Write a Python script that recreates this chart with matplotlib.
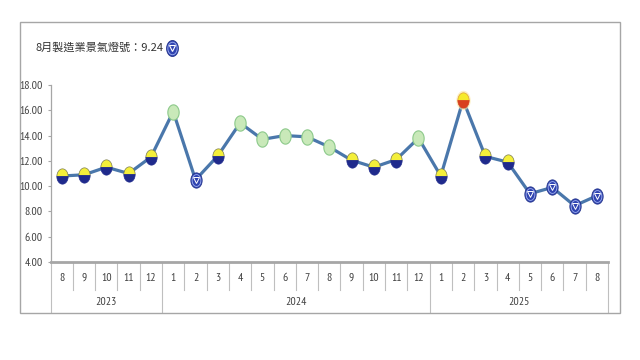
import numpy as np
import matplotlib
matplotlib.use("Agg")
import matplotlib.pyplot as plt
from matplotlib.path import Path
from matplotlib.patches import Rectangle
import matplotlib.transforms as mtransforms

# ---- data ----
months = [8, 9, 10, 11, 12,
          1, 2, 3, 4, 5, 6, 7, 8, 9, 10, 11, 12,
          1, 2, 3, 4, 5, 6, 7, 8]
years = ["2023", "2024", "2025"]
year_counts = [5, 12, 8]
scores = [10.8, 10.9, 11.5, 11.0, 12.3,
          15.9, 10.5, 12.4, 15.0, 13.7, 14.0, 13.9, 13.1, 12.05, 11.5, 12.1, 13.8,
          10.8, 16.8, 12.35, 11.9, 9.4, 9.9, 8.45, 9.24]
signals = ["yb", "yb", "yb", "yb", "yb",
           "g", "b", "yb", "g", "g", "g", "g", "g", "yb", "yb", "yb", "g",
           "yb", "yr", "yb", "yb", "b", "b", "b", "b"]
yticks = [4, 6, 8, 10, 12, 14, 16, 18]
title = "8月製造業景氣燈號：9.24"

plt.rcParams["font.family"] = ["PT Sans Narrow", "Roboto Condensed", "DejaVu Sans"]

# ---- marker paths (ellipses) ----
a, b = 0.74, 1.0
t_up = np.linspace(0, np.pi, 40)
t_dn = np.linspace(np.pi, 2 * np.pi, 40)
t_full = np.linspace(0, 2 * np.pi, 80)

def closed(xs, ys):
    v = np.column_stack([xs, ys])
    v = np.vstack([v, v[:1]])
    codes = [Path.MOVETO] + [Path.LINETO] * (len(v) - 2) + [Path.CLOSEPOLY]
    return Path(v, codes)

up_path = closed(a * np.cos(t_up), b * np.sin(t_up))
dn_path = closed(a * np.cos(t_dn), b * np.sin(t_dn))
full_path = closed(a * np.cos(t_full), b * np.sin(t_full))

fig = plt.figure(figsize=(6.4, 3.6), dpi=100)
fig.patch.set_facecolor("white")

# outer frame
fig.patches.append(Rectangle((20 / 640, 1 - 313 / 360), 600 / 640, 291 / 360,
                             transform=fig.transFigure, fill=False,
                             edgecolor="#a6a6a6", lw=1.0))

ax = fig.add_axes([50.6 / 640, 1 - 262 / 360, (608 - 50.6) / 640, (262 - 85) / 360])
x = np.arange(len(scores))
ax.set_xlim(-0.5, len(scores) - 0.5)
ax.set_ylim(4, 18)

for s in ["top", "right"]:
    ax.spines[s].set_visible(False)
ax.spines["left"].set_color("#a6a6a6")
ax.spines["left"].set_linewidth(0.9)
ax.spines["bottom"].set_color("#a6a6a6")
ax.spines["bottom"].set_linewidth(2.0)
ax.set_xticks([])
ax.set_yticks(yticks)
ax.set_yticklabels([f"{v:.2f}" for v in yticks])
ax.tick_params(axis="y", length=2.5, width=0.8, color="#a6a6a6", pad=3,
               labelsize=8.5, labelcolor="#404040")

# line
ax.plot(x, scores, color="#4a77ab", lw=2.3, zorder=2, solid_capstyle="round")

ms = 11
sc = np.array(scores)
sig = np.array(signals)

def sel(k):
    m = sig == k
    return x[m], sc[m]

# green
gx, gy = sel("g")
ax.plot(gx, gy, ls="none", marker=full_path, ms=ms, mfc="#c9e9b9", mec="#8cc98a",
        mew=0.8, zorder=3)
# yellow-blue
yx, yy = sel("yb")
ax.plot(yx, yy, ls="none", marker=up_path, ms=ms, mfc="#f4ef3a", mec="#7a7a50",
        mew=0.5, zorder=3)
ax.plot(yx, yy, ls="none", marker=dn_path, ms=ms, mfc="#1f2a8c", mec="#1f2a8c",
        mew=0.5, zorder=3)
# yellow-red
rx, ry = sel("yr")
ax.plot(rx, ry, ls="none", marker=full_path, ms=ms + 3, mfc="#fbe7a0", mec="none",
        alpha=0.6, zorder=3)
ax.plot(rx, ry, ls="none", marker=up_path, ms=ms, mfc="#f6ea2a", mec="#e0a030",
        mew=0.5, zorder=3)
ax.plot(rx, ry, ls="none", marker=dn_path, ms=ms, mfc="#d8401e", mec="#d8401e",
        mew=0.5, zorder=3)
# blue
bx, by = sel("b")
ax.plot(bx, by, ls="none", marker=full_path, ms=ms, mfc="#2f43b0", mec="#23338a",
        mew=0.6, zorder=3)
ax.plot(bx, by, ls="none", marker=full_path, ms=ms - 2.5, mfc="none", mec="#9fb0f0",
        mew=0.6, zorder=4)
ax.plot(bx, by, ls="none", marker="v", ms=4.4, mfc="none", mec="white",
        mew=0.7, zorder=5)

# category axis below
trans = mtransforms.blended_transform_factory(ax.transData, ax.transAxes)
h = 262 - 85
def yfrac(py):
    return -(py - 262) / h

for i, m in enumerate(months):
    ax.text(i, yfrac(278), str(m), transform=trans, ha="center", va="center",
            fontsize=8.5, color="#404040")
bounds = np.cumsum([0] + year_counts) - 0.5
for i in range(len(months) + 1):
    xb = i - 0.5
    y1 = yfrac(312) if xb in bounds else yfrac(290)
    ax.plot([xb, xb], [0, y1], transform=trans, color="#bfbfbf", lw=0.8,
            clip_on=False)
start = 0
for yname, cnt in zip(years, year_counts):
    ax.text(start + (cnt - 1) / 2, yfrac(302), yname, transform=trans, ha="center",
            va="center", fontsize=8.5, color="#404040")
    start += cnt

# title
t = fig.text(36 / 640, 1 - 48 / 360, title, ha="left", va="center", fontsize=8,
             color="#333333", family=["Noto Sans CJK TC", "DejaVu Sans"])
fig.canvas.draw()
ext = t.get_window_extent()
# title icon placed just after the text
tx, ty = (ext.x1 + 8) / 640, 1 - 48 / 360
fig.lines.append(plt.Line2D([tx], [ty], transform=fig.transFigure, ls="none",
                            marker=full_path, ms=11.5, mfc="#2f43b0", mec="#23338a", mew=0.6))
fig.lines.append(plt.Line2D([tx], [ty], transform=fig.transFigure, ls="none",
                            marker=full_path, ms=9, mfc="none", mec="#9fb0f0", mew=0.6))
fig.lines.append(plt.Line2D([tx], [ty], transform=fig.transFigure, ls="none",
                            marker="v", ms=4.6, mfc="none", mec="white", mew=0.8))

fig.savefig("out.png", dpi=100, facecolor="white")
